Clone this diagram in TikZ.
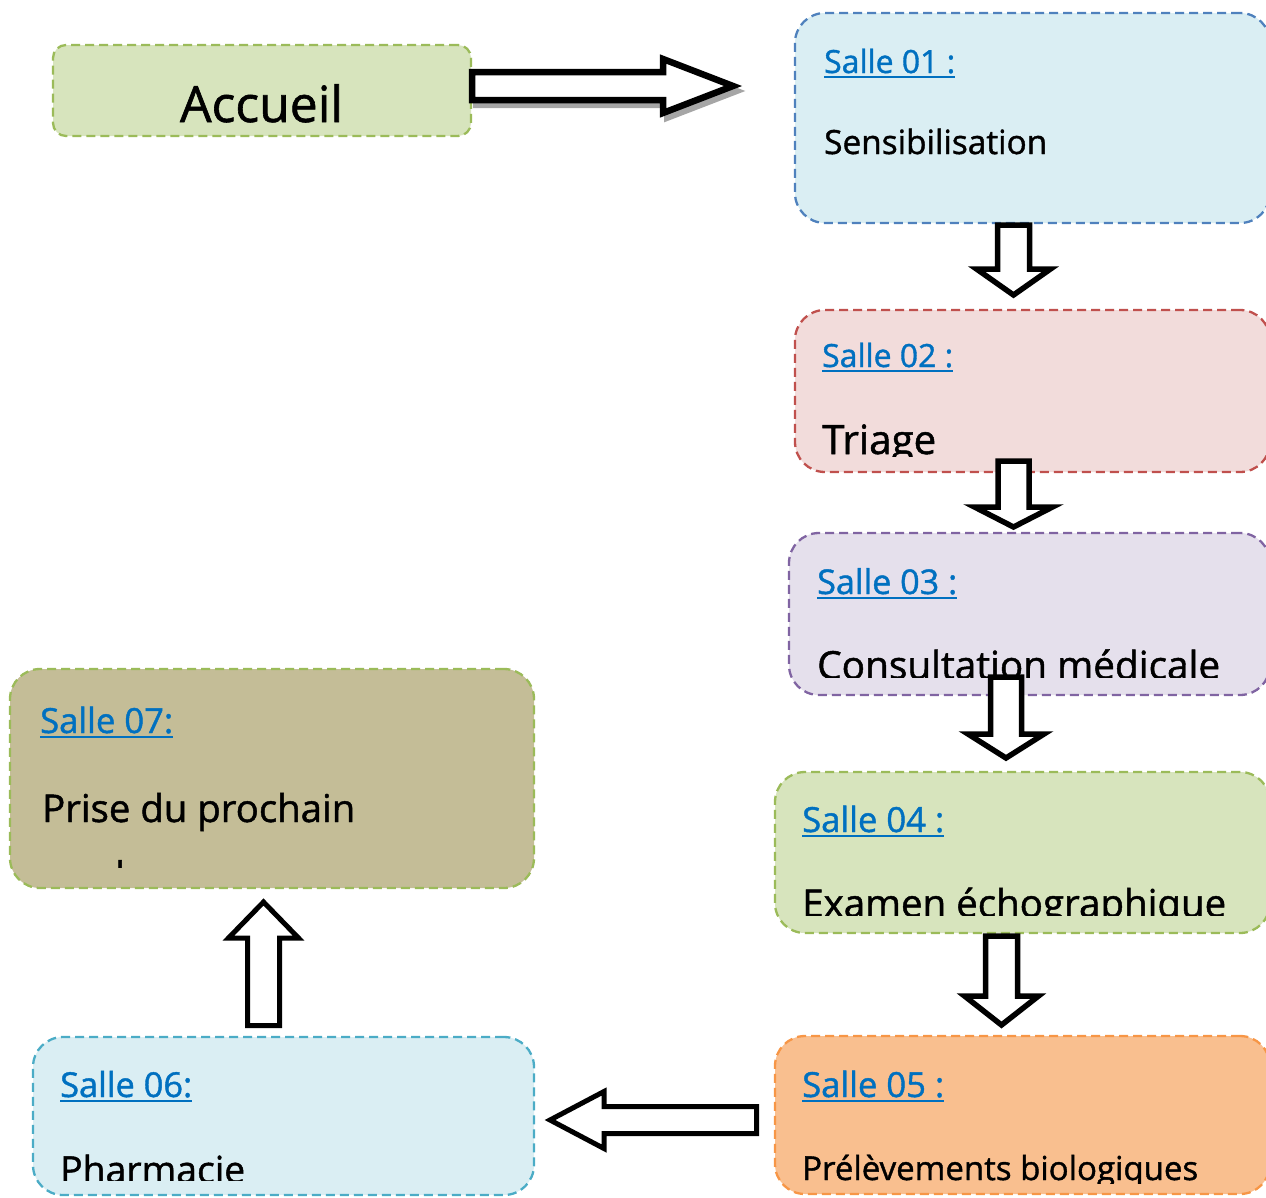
\documentclass[tikz,border=0pt]{standalone}
\usepackage{fontspec}
\setmainfont{Open Sans}
\newfontfamily\medfont{Open Sans}[FakeBold=1.2]
\usepackage{graphicx}
\usetikzlibrary{calc}
\definecolor{gfill}{HTML}{D7E4BD}
\definecolor{gline}{HTML}{9BBB59}
\definecolor{bfill}{HTML}{DAEEF3}
\definecolor{bline}{HTML}{4F81BD}
\definecolor{cline}{HTML}{4BACC6}
\definecolor{rfill}{HTML}{F2DCDB}
\definecolor{rline}{HTML}{C0504D}
\definecolor{pfill}{HTML}{E5E0EC}
\definecolor{pline}{HTML}{8064A2}
\definecolor{ofill}{HTML}{F9BF8F}
\definecolor{oline}{HTML}{F79646}
\definecolor{kfill}{HTML}{C4BD97}
\definecolor{sblue}{HTML}{0070C0}
\newcommand\fitw[2]{\resizebox{#1pt}{!}{#2}}
\newcommand\blockarrow[6][]{%
  \coordinate (ab) at ($(#3)!#6!(#2)$);
  \draw[barrow,#1] ($(#2)!#4!90:(#3)$) -- ($(ab)!#4!-90:(#2)$) -- ($(ab)!#5!-90:(#2)$)
    -- (#3) -- ($(ab)!#5!90:(#2)$) -- ($(ab)!#4!90:(#2)$) -- ($(#2)!#4!-90:(#3)$) -- cycle;
}
\newcommand\uline[1]{\draw[uls] ($(#1.base west)+(0,4)$) -- ($(#1.base east)+(0,4)$);}
\tikzset{
  room/.style={rounded corners=30pt, dash pattern=on 9pt off 5pt, line width=2.3pt,
    anchor=north west, inner sep=0pt, outer sep=0pt},
  lbl/.style={anchor=base west, inner sep=0pt, text=sblue, font=\medfont\fontsize{32}{36}\selectfont},
  body/.style={anchor=base west, inner sep=0pt, text=black, font=\medfont\fontsize{38}{44}\selectfont},
  uls/.style={draw=sblue, line width=2.4pt},
  barrow/.style={draw=black, fill=white, line width=5.5pt, line join=miter},
  shadowarrow/.style={draw=black!35, fill=black!35},
}
\begin{document}
\begin{tikzpicture}[x=1pt,y=-1pt]
\useasboundingbox (0,0) rectangle (1266,1197);
\clip (0,0) rectangle (1266,1197);

% boxes
\node[room, rounded corners=13pt, fill=gfill, draw=gline, minimum width=418pt, minimum height=91pt] (acc) at (53,45) {};
\node[room, fill=bfill, draw=bline, minimum width=475pt, minimum height=210pt] (s1) at (795,13) {};
\node[room, fill=rfill, draw=rline, minimum width=475pt, minimum height=162pt] (s2) at (795,310) {};
\node[room, fill=pfill, draw=pline, minimum width=481pt, minimum height=162pt] (s3) at (789,533) {};
\node[room, fill=gfill, draw=gline, minimum width=495pt, minimum height=161pt] (s4) at (775,772) {};
\node[room, fill=ofill, draw=oline, minimum width=495pt, minimum height=158pt] (s5) at (775,1036) {};
\node[room, fill=bfill, draw=cline, minimum width=501pt, minimum height=158pt] (s6) at (33,1037) {};
\node[room, fill=kfill, draw=gline, minimum width=524pt, minimum height=219pt] (s7) at (10,669) {};

% texts
\node[anchor=base, inner sep=0pt, font=\medfont\fontsize{50}{56}\selectfont] (tacc) at (261.5,122) {\fitw{163}{Accueil}};

\node[lbl] (l1) at (824,73) {\fitw{131}{Salle 01 :}};
\node[body] (b1) at (824,154) {\fitw{223}{Sensibilisation}};

\node[lbl] (l2) at (822,367) {\fitw{131}{Salle 02 :}};
\begin{scope}
  \clip (s2.north west) rectangle (1270,456);
  \node[body] (b2) at (822,454) {\fitw{114}{Triage}};
\end{scope}

\node[lbl] (l3) at (817,594) {\fitw{140}{Salle 03 :}};
\begin{scope}
  \clip (s3.north west) rectangle (1270,677);
  \node[body] (b3) at (817,679) {\fitw{403}{Consultation médicale}};
\end{scope}

\node[lbl] (l4) at (802,832) {\fitw{142}{Salle 04 :}};
\begin{scope}
  \clip (s4.north west) rectangle (1270,915);
  \node[body] (b4) at (802,917) {\fitw{424}{Examen échographique}};
\end{scope}

\node[lbl] (l5) at (802,1097) {\fitw{142}{Salle 05 :}};
\begin{scope}
  \clip (s5.north west) rectangle (1270,1183);
  \node[body] (b5) at (802,1180) {\fitw{396}{Prélèvements biologiques}};
\end{scope}

\node[lbl] (l6) at (60,1097) {\fitw{132}{Salle 06:}};
\begin{scope}
  \clip (s6.north west) rectangle (534,1180);
  \node[body] (b6) at (60,1183) {\fitw{185}{Pharmacie}};
\end{scope}

\node[lbl] (l7) at (40,733) {\fitw{133}{Salle 07:}};
\node[body] (b7) at (42,822) {\fitw{313}{Prise du prochain}};
\begin{scope}
  \clip (s7.north west) rectangle (534,867);
  \node[body] (b7b) at (42,889) {rendez-vous};
\end{scope}

% underlines of the room labels
\uline{l1} \uline{l2} \uline{l3} \uline{l4} \uline{l5} \uline{l6} \uline{l7}

% arrow end points
\coordinate (a1s) at (472,86);   \coordinate (a1e) at (733,86);
\coordinate (a1ss) at (476,91);  \coordinate (a1es) at (737,91);
\coordinate (a2s) at (1013.5,225); \coordinate (a2e) at (1013.5,295);
\coordinate (a3s) at (1013.5,461); \coordinate (a3e) at (1013.5,527);
\coordinate (a4s) at (1006,677);  \coordinate (a4e) at (1006,758);
\coordinate (a5s) at (1001.5,936); \coordinate (a5e) at (1001.5,1025);
\coordinate (a6s) at (756.5,1120); \coordinate (a6e) at (550,1120);
\coordinate (a7s) at (263.5,1025.5); \coordinate (a7e) at (263.5,902);

% arrows
\blockarrow[shadowarrow, line width=6pt]{a1ss}{a1es}{14pt}{27pt}{70pt}
\blockarrow[line width=6.5pt]{a1s}{a1e}{14pt}{27pt}{70pt}
\blockarrow{a2s}{a2e}{16pt}{37pt}{26pt}
\blockarrow{a3s}{a3e}{15.5pt}{39pt}{20pt}
\blockarrow{a4s}{a4e}{15.5pt}{38pt}{24pt}
\blockarrow{a5s}{a5e}{16pt}{37pt}{29pt}
\blockarrow[line width=5pt]{a6s}{a6e}{13.5pt}{28.5pt}{54pt}
\blockarrow[line width=5pt]{a7s}{a7e}{16pt}{35pt}{36pt}
\end{tikzpicture}
\end{document}
